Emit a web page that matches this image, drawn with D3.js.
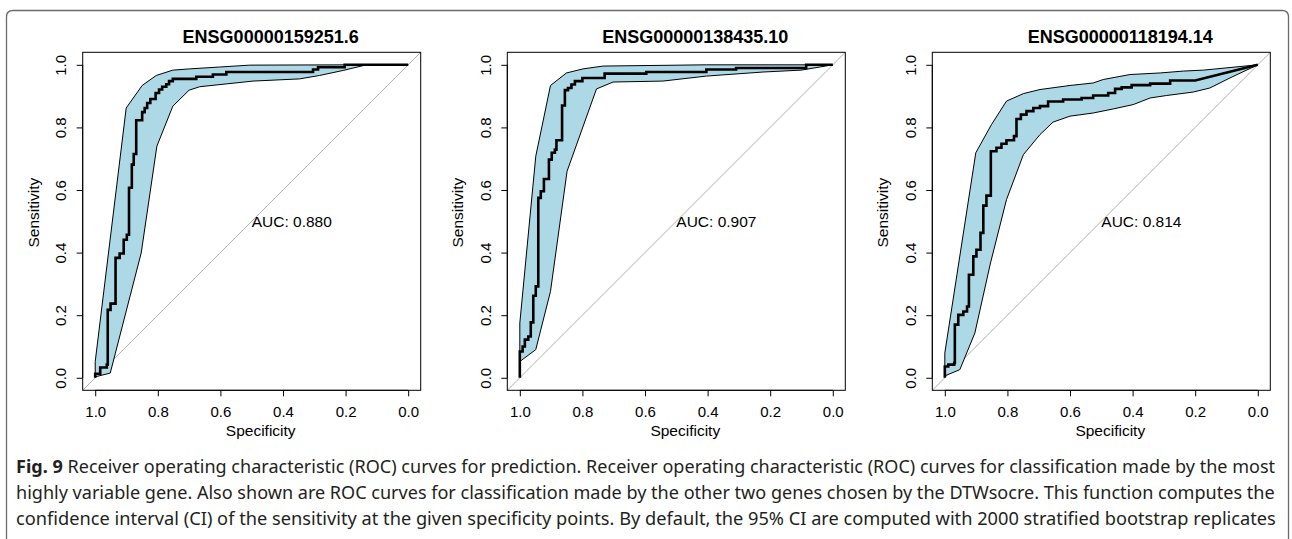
<!DOCTYPE html>
<html>
<head>
<meta charset="utf-8">
<script src="https://cdn.jsdelivr.net/npm/d3@7"></script>
<style>
  body { margin: 0; background: #fff; }
  svg { display: block; }
</style>
</head>
<body>
<div id="chart"></div>
<script>
// gene ids shown as panel titles, and the AUC printed in each panel
var titles = ["ENSG00000159251.6", "ENSG00000138435.10", "ENSG00000118194.14"];
var aucs = ["AUC: 0.880", "AUC: 0.907", "AUC: 0.814"];
var tickValues = [1.0, 0.8, 0.6, 0.4, 0.2, 0.0];

// ROC step points [specificity, sensitivity]
var roc1 = [[1.0, 0.0], [1.0, 0.013], [0.984, 0.033], [0.963, 0.042], [0.960, 0.217], [0.951, 0.237],
    [0.935, 0.383], [0.922, 0.397], [0.909, 0.441], [0.899, 0.457], [0.892, 0.607], [0.883, 0.681],
    [0.877, 0.715], [0.869, 0.823], [0.850, 0.849], [0.842, 0.862], [0.834, 0.878], [0.824, 0.891],
    [0.807, 0.910], [0.796, 0.921], [0.786, 0.930], [0.773, 0.938], [0.764, 0.948], [0.752, 0.955],
    [0.677, 0.962], [0.624, 0.969], [0.581, 0.977], [0.304, 0.985], [0.288, 0.992], [0.203, 1.0], [0.0, 1.0]];
var roc2 = [[1.0, 0.0], [1.0, 0.084], [0.991, 0.100], [0.984, 0.122], [0.973, 0.132], [0.965, 0.177],
    [0.957, 0.262], [0.949, 0.292], [0.941, 0.575], [0.933, 0.596], [0.923, 0.635], [0.907, 0.697],
    [0.898, 0.719], [0.888, 0.729], [0.883, 0.759], [0.865, 0.870], [0.856, 0.919], [0.846, 0.926],
    [0.835, 0.937], [0.824, 0.948], [0.800, 0.958], [0.729, 0.972], [0.596, 0.977], [0.404, 0.985],
    [0.309, 0.990], [0.085, 1.0], [0.0, 1.0]];
var roc3 = [[1.0, 0.0], [1.0, 0.036], [0.989, 0.042], [0.970, 0.047], [0.968, 0.170], [0.957, 0.201],
    [0.941, 0.212], [0.929, 0.228], [0.923, 0.329], [0.909, 0.388], [0.899, 0.409], [0.886, 0.463],
    [0.877, 0.550], [0.867, 0.582], [0.853, 0.724], [0.835, 0.735], [0.819, 0.748], [0.803, 0.759],
    [0.779, 0.772], [0.771, 0.827], [0.757, 0.841], [0.739, 0.852], [0.717, 0.862], [0.696, 0.868],
    [0.670, 0.883], [0.622, 0.889], [0.563, 0.894], [0.526, 0.902], [0.478, 0.910], [0.456, 0.923],
    [0.435, 0.928], [0.403, 0.935], [0.344, 0.940], [0.280, 0.950], [0.200, 0.950], [0.0, 1.0]];

// 95% CI of sensitivity, upper and lower bounds [specificity, sensitivity]
var ciUpper1 = [[1.0, 0.052], [0.901, 0.862], [0.850, 0.934], [0.805, 0.966], [0.752, 0.983],
    [0.698, 0.987], [0.602, 0.993], [0.506, 0.999], [0.155, 1.0], [0.0, 1.0]];
var ciLower1 = [[1.0, 0.003], [0.952, 0.015], [0.853, 0.399], [0.803, 0.740], [0.752, 0.868],
    [0.700, 0.919], [0.666, 0.930], [0.496, 0.948], [0.347, 0.955], [0.283, 0.966], [0.208, 0.982],
    [0.133, 1.0], [0.0, 1.0]];
var ciUpper2 = [[1.0, 0.175], [0.949, 0.708], [0.902, 0.934], [0.851, 0.974], [0.798, 0.987],
    [0.734, 0.996], [0.404, 1.0], [0.0, 1.0]];
var ciLower2 = [[1.0, 0.052], [0.949, 0.090], [0.902, 0.276], [0.849, 0.660], [0.755, 0.923],
    [0.702, 0.945], [0.543, 0.948], [0.404, 0.964], [0.223, 0.977], [0.101, 0.983], [0.0, 1.0]];
var ciUpper3 = [[1.0, 0.079], [0.901, 0.719], [0.851, 0.809], [0.803, 0.884], [0.749, 0.908],
    [0.696, 0.921], [0.600, 0.934], [0.526, 0.942], [0.494, 0.953], [0.408, 0.969], [0.312, 0.974],
    [0.238, 0.980], [0.174, 0.983], [0.0, 1.0]];
var ciLower3 = [[1.0, 0.006], [0.952, 0.026], [0.904, 0.143], [0.854, 0.367], [0.803, 0.569],
    [0.749, 0.713], [0.696, 0.777], [0.654, 0.817], [0.600, 0.836], [0.526, 0.846], [0.462, 0.859],
    [0.398, 0.873], [0.344, 0.894], [0.291, 0.902], [0.206, 0.913], [0.153, 0.926], [0.089, 0.958],
    [0.0, 1.0]];

var rocs = [roc1, roc2, roc3];
var ciUppers = [ciUpper1, ciUpper2, ciUpper3];
var ciLowers = [ciLower1, ciLower2, ciLower3];

var captionLines = [
    " Receiver operating characteristic (ROC) curves for prediction. Receiver operating characteristic (ROC) curves for classification made by the most",
    "highly variable gene. Also shown are ROC curves for classification made by the other two genes chosen by the DTWsocre. This function computes the",
    "confidence interval (CI) of the sensitivity at the given specificity points. By default, the 95% CI are computed with 2000 stratified bootstrap replicates"
];

var W = 1292, H = 539;
var font = "'Liberation Sans', Arial, Helvetica, sans-serif";
var boxLefts = [82.7, 507.3, 932.3];
var boxTop = 52.3, boxSize = 338;

var svg = d3.select("#chart")
    .append("svg")
    .attr("width", W)
    .attr("height", H);

// outer figure frame, rounded on top
svg.append("path")
    .attr("d", "M6.5,548 V17 Q6.5,10.5 13,10.5 H1282 Q1288.5,10.5 1288.5,17 V548")
    .attr("fill", "none")
    .attr("stroke", "#6b6b6b")
    .attr("stroke-width", 1.3);

// turn step points into a staircase (horizontal, then vertical); last point joined straight
function staircase(pts) {
    var out = [pts[0]];
    for (var i = 1; i < pts.length; i++) {
	var prev = pts[i - 1], cur = pts[i];
	if (i < pts.length - 1) out.push([cur[0], prev[1]]);
	out.push(cur);
    }
    return out;
}

rocs.forEach(function(roc, i) {
    var bl = boxLefts[i];
    var x = d3.scaleLinear().domain([1.04, -0.04]).range([bl, bl + boxSize]);
    var y = d3.scaleLinear().domain([-0.04, 1.04]).range([boxTop + boxSize, boxTop]);
    var cx = bl + boxSize / 2, cy = boxTop + boxSize / 2;

    var g = svg.append("g").attr("class", "panel");

    var clipId = "clip" + i;
    g.append("clipPath")
	.attr("id", clipId)
	.append("rect")
	.attr("x", bl).attr("y", boxTop)
	.attr("width", boxSize).attr("height", boxSize);

    var line = d3.line()
	.x(function(d) { return x(d[0]); })
	.y(function(d) { return y(d[1]); });

    // chance diagonal
    g.append("path")
	.attr("clip-path", "url(#" + clipId + ")")
	.attr("d", line([[1.04, -0.04], [-0.04, 1.04]]))
	.attr("stroke", "#b0b0b0")
	.attr("stroke-width", 1)
	.attr("fill", "none");

    // confidence band
    var band = ciUppers[i].concat(ciLowers[i].slice().reverse());
    g.append("path")
	.attr("d", line(band) + "Z")
	.attr("fill", "#add8e6")
	.attr("stroke", "#000")
	.attr("stroke-width", 1)
	.attr("stroke-linejoin", "round");

    // roc curve
    g.append("path")
	.attr("d", line(staircase(roc)))
	.attr("fill", "none")
	.attr("stroke", "#000")
	.attr("stroke-width", 2.6)
	.attr("stroke-linejoin", "miter");

    // box
    g.append("rect")
	.attr("x", bl).attr("y", boxTop)
	.attr("width", boxSize).attr("height", boxSize)
	.attr("fill", "none")
	.attr("stroke", "#000")
	.attr("stroke-width", 1);

    var xAxis = g.append("g")
	.attr("transform", "translate(0," + (boxTop + boxSize) + ")")
	.call(d3.axisBottom(x)
	      .tickValues(tickValues)
	      .tickFormat(d3.format(".1f"))
	      .tickSize(6)
	      .tickSizeOuter(0)
	      .tickPadding(10));
    xAxis.select(".domain").attr("d", "M" + x(1) + ",0H" + x(0));

    var yAxis = g.append("g")
	.attr("transform", "translate(" + bl + ",0)")
	.call(d3.axisLeft(y)
	      .tickValues(tickValues)
	      .tickFormat(d3.format(".1f"))
	      .tickSize(6)
	      .tickSizeOuter(0));
    yAxis.select(".domain").attr("d", "M0," + y(0) + "V" + y(1));
    yAxis.selectAll(".tick text")
	.attr("x", null)
	.attr("dy", null)
	.attr("text-anchor", "middle")
	.attr("transform", "translate(-16.5,0) rotate(-90)");

    g.selectAll(".tick text")
	.attr("font-family", font)
	.attr("font-size", "15px")
	.attr("fill", "#000");
    g.selectAll(".tick line, .domain").attr("stroke", "#000");

    // title
    g.append("text")
	.attr("x", cx + 19)
	.attr("y", 43)
	.attr("text-anchor", "middle")
	.attr("font-family", font)
	.attr("font-weight", "bold")
	.attr("font-size", "18px")
	.text(titles[i]);

    // axis labels
    g.append("text")
	.attr("x", cx + 9)
	.attr("y", 435.5)
	.attr("text-anchor", "middle")
	.attr("font-family", font)
	.attr("font-size", "15.5px")
	.text("Specificity");
    g.append("text")
	.attr("transform", "translate(" + (bl - 44) + "," + (cy - 8.7) + ") rotate(-90)")
	.attr("text-anchor", "middle")
	.attr("font-family", font)
	.attr("font-size", "15.5px")
	.text("Sensitivity");

    // auc label
    g.append("text")
	.attr("x", x(0.5))
	.attr("y", y(0.5))
	.attr("dy", "0.35em")
	.attr("font-family", font)
	.attr("font-size", "15.5px")
	.text(aucs[i]);
});

// caption: measure each line, then squeeze it horizontally to the text width
var capFont = "'Noto Sans', 'DejaVu Sans Condensed', sans-serif";
var capBaselines = [473, 499, 525];
var capLeft = 16, capWidth = 1260;
captionLines.forEach(function(txt, i) {
    var wrap = svg.append("g");
    var t = wrap.append("text")
	.attr("x", 0)
	.attr("y", 0)
	.attr("font-family", capFont)
	.attr("font-size", "18.5px")
	.attr("fill", "#231f20");
    if (i === 0) {
	t.append("tspan").attr("font-weight", "bold").text("Fig. 9");
	t.append("tspan").text(txt);
    } else {
	t.text(txt);
    }
    var len = t.node().getComputedTextLength();
    var k = capWidth / len;
    wrap.attr("transform", "translate(" + capLeft + "," + capBaselines[i] + ") scale(" + k + ",1)");
});
</script>
</body>
</html>
